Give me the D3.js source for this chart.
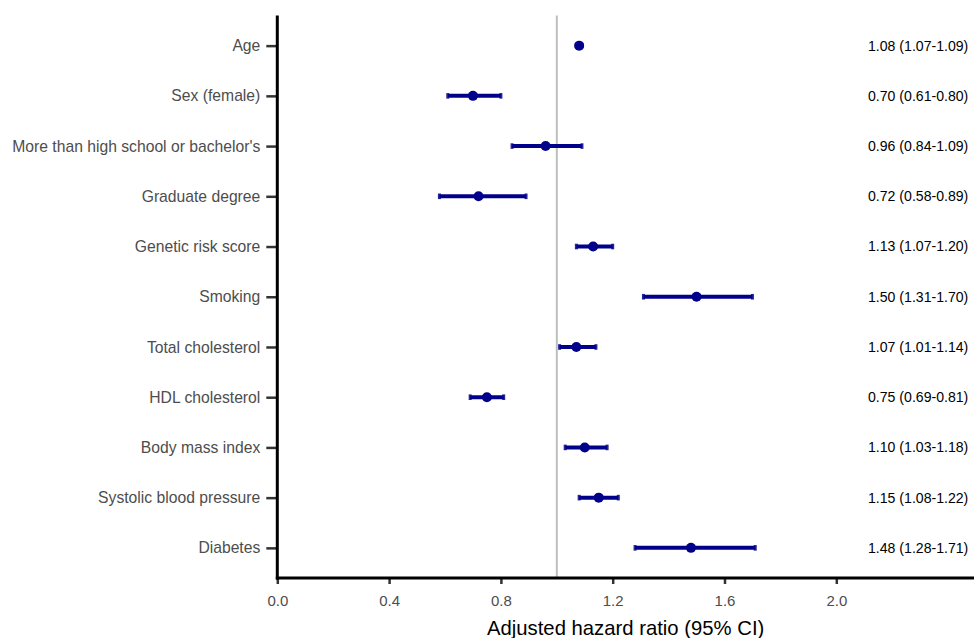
<!DOCTYPE html>
<html><head><meta charset="utf-8">
<script src="https://cdn.jsdelivr.net/npm/d3@7"></script>
<style>body{margin:0;background:#fff;} text{font-family:"Liberation Sans",Arial,sans-serif;}</style>
</head><body>
<svg id="chart" width="974" height="638"></svg>
<script>
const categories = ["Age","Sex (female)","More than high school or bachelor's","Graduate degree","Genetic risk score","Smoking","Total cholesterol","HDL cholesterol","Body mass index","Systolic blood pressure","Diabetes"];
const estimates = [1.08,0.70,0.96,0.72,1.13,1.50,1.07,0.75,1.10,1.15,1.48];
const lowerCI = [1.07,0.61,0.84,0.58,1.07,1.31,1.01,0.69,1.03,1.08,1.28];
const upperCI = [1.09,0.80,1.09,0.89,1.20,1.70,1.14,0.81,1.18,1.22,1.71];
const xTicks = [0.0,0.4,0.8,1.2,1.6,2.0];
const refValue = 1.0;
const xTitle = "Adjusted hazard ratio (95% CI)";

(function(){
const svg = d3.select("#chart");
const pL = 277.3, pR = 974, pT = 15.5, pB = 578;
const x = d3.scaleLinear().domain([0, 2.0]).range([pL, pL + 2.0*279.5]);
const y = d3.scalePoint().domain(categories).range([pT, pB]).padding(0.6);
const col = "#00008B";
const fmt = d3.format(".2f");
const ff = '"Liberation Sans",Arial,sans-serif';
const data = categories.map((c,i)=>({c, e:estimates[i], lo:lowerCI[i], hi:upperCI[i]}));

// reference line
svg.append("line").attr("x1", x(refValue)).attr("x2", x(refValue)).attr("y1", pT).attr("y2", pB)
  .attr("stroke", "#bebebe").attr("stroke-width", 2);

// error bars
const g = svg.append("g");
g.selectAll(".ci").data(data).join("line")
  .attr("x1", d=>x(d.lo)).attr("x2", d=>x(d.hi)).attr("y1", d=>y(d.c)).attr("y2", d=>y(d.c))
  .attr("stroke", col).attr("stroke-width", 4);
g.selectAll(".capl").data(data).join("line")
  .attr("x1", d=>x(d.lo)).attr("x2", d=>x(d.lo)).attr("y1", d=>y(d.c)-2.8).attr("y2", d=>y(d.c)+2.8)
  .attr("stroke", col).attr("stroke-width", 3).attr("opacity",0.85);
g.selectAll(".capr").data(data).join("line")
  .attr("x1", d=>x(d.hi)).attr("x2", d=>x(d.hi)).attr("y1", d=>y(d.c)-2.8).attr("y2", d=>y(d.c)+2.8)
  .attr("stroke", col).attr("stroke-width", 3).attr("opacity",0.85);
g.selectAll("circle").data(data).join("circle")
  .attr("cx", d=>x(d.e)).attr("cy", d=>y(d.c)).attr("r", 5).attr("fill", col);

// right labels
svg.selectAll(".lab").data(data).join("text")
  .attr("x", 868).attr("y", d=>y(d.c)).attr("dy","0.35em")
  .attr("font-size", 14.1).attr("fill", "#000")
  .text(d=>`${fmt(d.e)} (${fmt(d.lo)}-${fmt(d.hi)})`);

// x axis
const xa = svg.append("g").attr("transform", `translate(0,${pB})`)
  .call(d3.axisBottom(x).tickValues(xTicks).tickFormat(d3.format(".1f")).tickSize(6).tickPadding(10).tickSizeOuter(0));
xa.select(".domain").remove();
xa.selectAll(".tick line").attr("stroke","#333").attr("stroke-width",2.5);
xa.selectAll(".tick text").attr("fill","#4d4d4d").attr("font-size",15).attr("dy","0.78em")
  .style("font-family",ff);
svg.append("line").attr("x1", pL-1.5).attr("x2", pR).attr("y1", pB).attr("y2", pB)
  .attr("stroke","#000").attr("stroke-width",3);

// y axis
const ya = svg.append("g").attr("transform", `translate(${pL},0)`)
  .call(d3.axisLeft(y).tickSize(11).tickPadding(6).tickSizeOuter(0));
ya.select(".domain").remove();
ya.selectAll(".tick line").attr("stroke","#333").attr("stroke-width",2.5);
ya.selectAll(".tick text").attr("fill","#4d4d4d").attr("font-size",15.7)
  .style("font-family",ff);
svg.append("line").attr("x1", pL).attr("x2", pL).attr("y1", pT).attr("y2", pB+1.5)
  .attr("stroke","#000").attr("stroke-width",3);

// title
svg.append("text").attr("x", (pL+pR)/2).attr("y", 635).attr("text-anchor","middle")
  .attr("font-size", 20.3).attr("fill","#000").text(xTitle);
})();
</script>
</body></html>
